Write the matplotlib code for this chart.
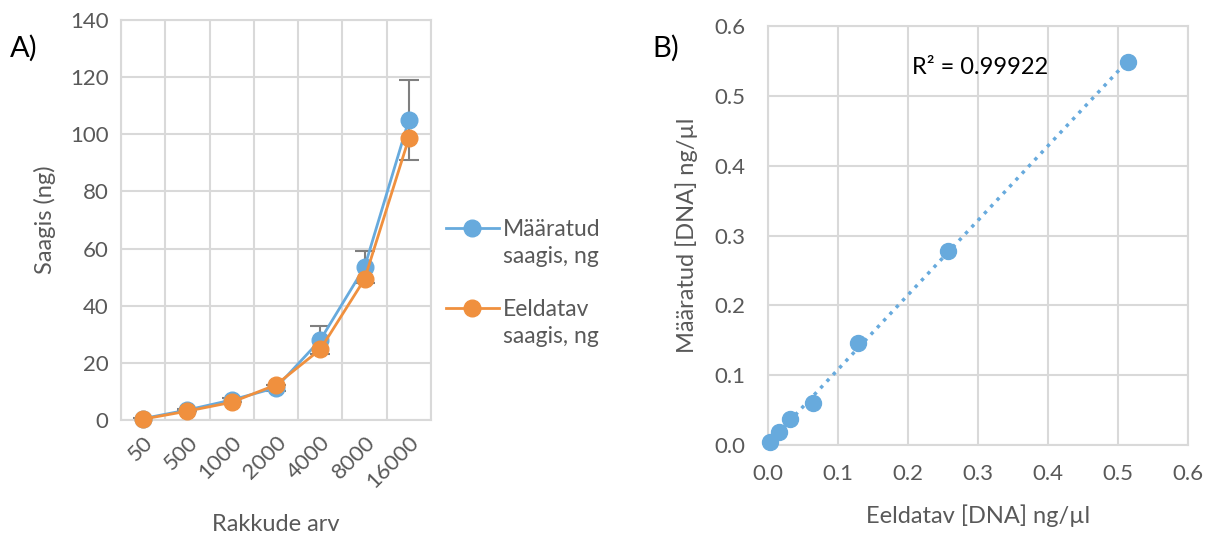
import matplotlib.pyplot as plt
from matplotlib.lines import Line2D
import numpy as np

plt.rcParams['font.family'] = ['Lato', 'DejaVu Sans']

# panel A data
rakud = ['50', '500', '1000', '2000', '4000', '8000', '16000']
maaratud = [0.5, 3.5, 7.0, 11.3, 28.0, 53.5, 105.0]
maaratud_err = [0.3, 0.5, 0.8, 1.0, 5.0, 5.5, 14.0]
eeldatav = [0.3, 3.1, 6.2, 12.3, 24.7, 49.3, 98.6]

# panel B data
eeld_dna = [0.003, 0.016, 0.032, 0.064, 0.128, 0.257, 0.514]
maar_dna = [0.004, 0.019, 0.037, 0.060, 0.146, 0.278, 0.548]

blue = '#67AADD'
orange = '#F0903E'
grid_c = '#D9D9D9'
txt_c = '#595959'

fig = plt.figure(figsize=(12.09, 5.35), dpi=100)

# ---- A)
ax1 = fig.add_axes([0.1001, 0.2150, 0.2564, 0.7477])
x = np.arange(len(rakud))
ax1.errorbar(x, maaratud, yerr=maaratud_err, fmt='none', ecolor='#7F7F7F',
             elinewidth=1.5, capsize=7, capthick=1.5, zorder=2)
l1, = ax1.plot(x, maaratud, '-o', color=blue, lw=2, ms=12, zorder=3, clip_on=False)
l2, = ax1.plot(x, eeldatav, '-o', color=orange, lw=2, ms=12, zorder=4, clip_on=False)
ax1.set_xlim(-0.5, 6.5)
ax1.set_ylim(0, 140)
ax1.set_yticks(np.arange(0, 141, 20))
ax1.set_xticks(x)
ax1.set_xticklabels(rakud, rotation=45, ha='right', rotation_mode='anchor')
ax1.set_xticks(np.arange(-0.5, 7, 1), minor=True)
ax1.grid(True, which='minor', axis='x', color=grid_c, lw=1.5)
ax1.grid(True, which='major', axis='y', color=grid_c, lw=1.5)
ax1.set_axisbelow(True)
ax1.tick_params(which='both', length=0, labelsize=16, labelcolor=txt_c, pad=9)
for s in ax1.spines.values():
    s.set_color(grid_c)
    s.set_linewidth(1.5)
ax1.set_ylabel('Saagis (ng)', fontsize=17, color=txt_c, labelpad=10)
ax1.set_xlabel('Rakkude arv', fontsize=17, color=txt_c, labelpad=16)

# legend: marker sits on first line of each two-line label
blank = Line2D([], [], color='none')
handles = [l1, blank, blank, l2, blank]
labels = ['Määratud', 'saagis, ng', '', 'Eeldatav', 'saagis, ng']
leg = ax1.legend(handles, labels, loc='center left', bbox_to_anchor=(1.048, 0.3425),
                 borderaxespad=0, borderpad=0, frameon=False, fontsize=16.5,
                 handlelength=2.3, labelspacing=0.25, handletextpad=0.2)
for t in leg.get_texts():
    t.set_color(txt_c)
fig.text(0.008, 0.91, 'A)', fontsize=21, color='black', va='center')

# ---- B)
ax2 = fig.add_axes([0.6352, 0.1682, 0.3474, 0.7832])
coef = np.polyfit(eeld_dna, maar_dna, 1)
xs = np.array([min(eeld_dna), max(eeld_dna)])
ax2.plot(xs, np.polyval(coef, xs), ':', color=blue, lw=2.5, zorder=2)
ax2.plot(eeld_dna, maar_dna, 'o', color=blue, ms=11.5, zorder=3, clip_on=False)
ax2.set_xlim(0, 0.6)
ax2.set_ylim(0, 0.6)
ticks = np.arange(0, 0.61, 0.1)
ax2.set_xticks(ticks)
ax2.set_yticks(ticks)
ax2.set_xticklabels(['%.1f' % t for t in ticks])
ax2.set_yticklabels(['%.1f' % t for t in ticks])
ax2.grid(True, color=grid_c, lw=1.5)
ax2.set_axisbelow(True)
ax2.tick_params(axis='x', length=0, labelsize=16, labelcolor=txt_c, pad=14)
ax2.tick_params(axis='y', length=0, labelsize=16, labelcolor=txt_c, pad=16)
for s in ax2.spines.values():
    s.set_color(grid_c)
    s.set_linewidth(1.5)
ax2.set_xlabel('Eeldatav [DNA] ng/µl', fontsize=17, color=txt_c, labelpad=14)
ax2.set_ylabel('Määratud [DNA] ng/µl', fontsize=17, color=txt_c, labelpad=12)
ax2.text(0.303, 0.541, 'R² = 0.99922', fontsize=17, color='black', ha='center', va='center')
fig.text(0.540, 0.91, 'B)', fontsize=21, color='black', va='center')

fig.savefig('out.png', dpi=100)
